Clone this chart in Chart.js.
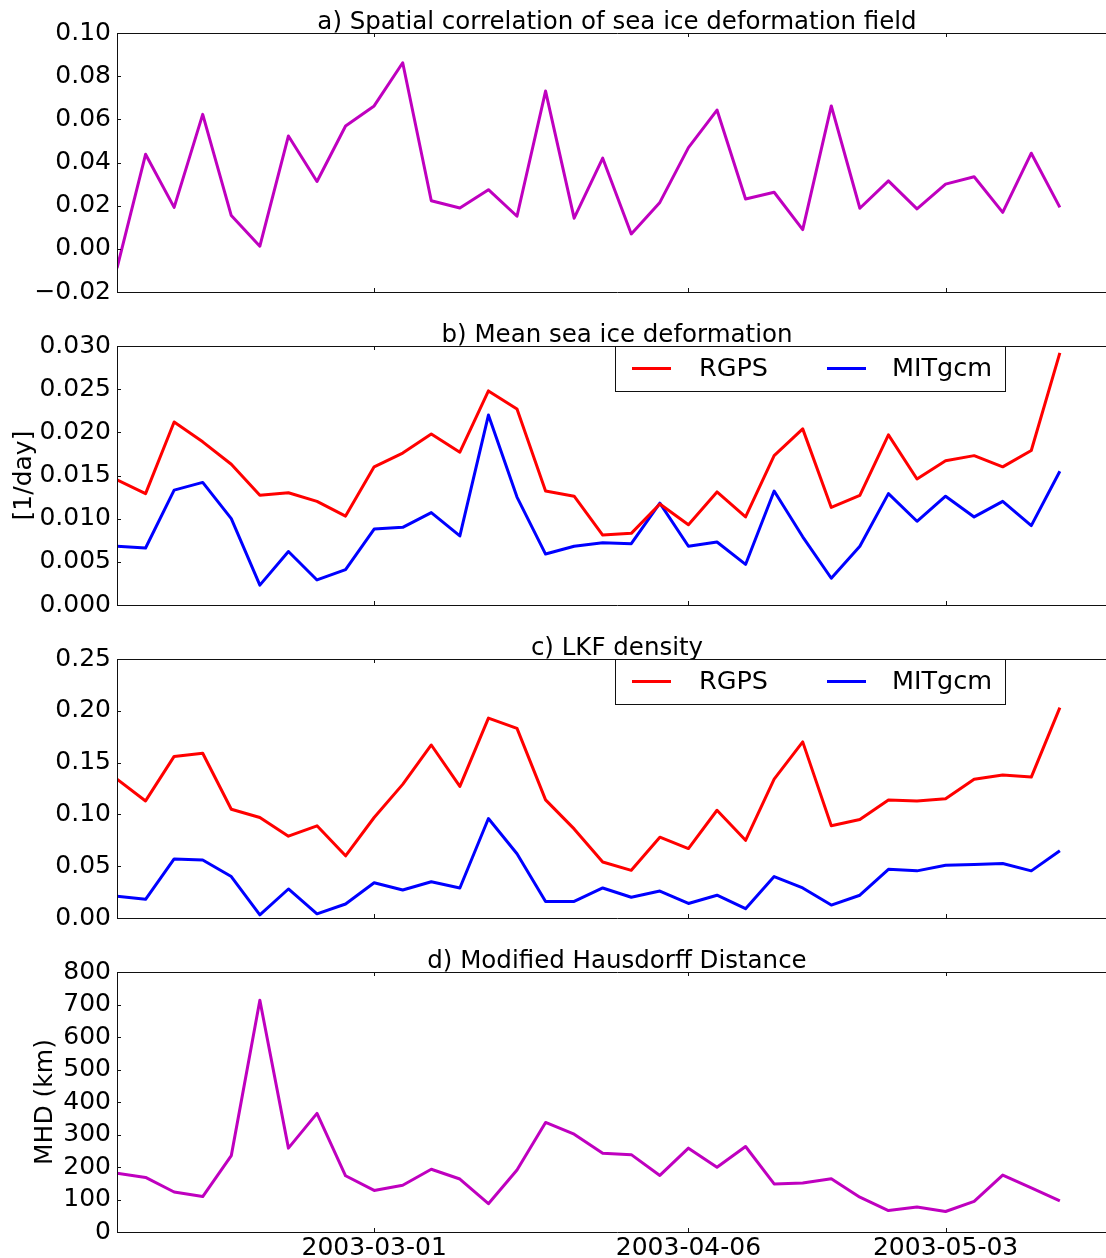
<!DOCTYPE html>
<html>
<head>
<meta charset="utf-8">
<script src="https://cdn.jsdelivr.net/npm/chart.js@4.4.1/dist/chart.umd.min.js"></script>
<style>
  html, body { margin: 0; padding: 0; background: #fff; }
  body { width: 1106px; height: 1258px; position: relative; overflow: hidden; }
  canvas { position: absolute; left: 0; }
</style>
</head>
<body>
<canvas id="panelA" width="1117" height="313" style="top:0px"></canvas>
<canvas id="panelB" width="1117" height="313" style="top:313px"></canvas>
<canvas id="panelC" width="1117" height="313" style="top:626px"></canvas>
<canvas id="panelD" width="1117" height="319" style="top:939px"></canvas>
<script>
// Snapshot index of the labelled dates on the time axis
const xTickIndex = [9, 20, 29];
const xTickLabels = ['2003-03-01', '2003-04-06', '2003-05-03'];

// a) spatial correlation between RGPS and MITgcm deformation fields
const spatialCorr = [-0.009, 0.0438, 0.0192, 0.0623, 0.0154, 0.0012, 0.0523, 0.0312, 0.0569, 0.0662,
  0.0862, 0.0223, 0.0189, 0.0274, 0.0151, 0.0731, 0.0142, 0.042, 0.0069, 0.0215,
  0.0469, 0.0643, 0.0231, 0.0262, 0.0089, 0.0662, 0.0188, 0.0315, 0.0185, 0.030,
  0.0334, 0.0169, 0.0443, 0.0192];

// b) mean deformation rate [1/day]
const meanDefRGPS = [0.0145, 0.0129, 0.0212, 0.0189, 0.0163, 0.0127, 0.0130, 0.0120, 0.0103, 0.0160,
  0.0176, 0.0198, 0.0177, 0.0248, 0.0227, 0.0132, 0.0126, 0.0081, 0.0083, 0.0117,
  0.0093, 0.0131, 0.0102, 0.0173, 0.0204, 0.0113, 0.0127, 0.0197, 0.0146, 0.0167,
  0.0173, 0.0160, 0.0179, 0.0292];
const meanDefMIT = [0.0068, 0.0066, 0.0133, 0.0142, 0.0100, 0.0023, 0.0062, 0.0029, 0.0041, 0.0088,
  0.0090, 0.0107, 0.0080, 0.0220, 0.0125, 0.0059, 0.0068, 0.0072, 0.0071, 0.0118,
  0.0068, 0.0073, 0.0047, 0.0132, 0.0079, 0.0031, 0.0068, 0.0129, 0.0097, 0.0126,
  0.0102, 0.0120, 0.0092, 0.0155];

// c) LKF density
const lkfRGPS = [0.134, 0.113, 0.156, 0.159, 0.105, 0.097, 0.079, 0.089, 0.060, 0.097,
  0.129, 0.167, 0.127, 0.193, 0.183, 0.114, 0.086, 0.054, 0.046, 0.078,
  0.067, 0.104, 0.075, 0.134, 0.170, 0.089, 0.095, 0.114, 0.113, 0.115,
  0.134, 0.138, 0.136, 0.203];
const lkfMIT = [0.021, 0.018, 0.057, 0.056, 0.040, 0.003, 0.028, 0.004, 0.0135, 0.034,
  0.027, 0.035, 0.029, 0.096, 0.062, 0.016, 0.016, 0.029, 0.020, 0.026,
  0.014, 0.022, 0.009, 0.040, 0.029, 0.0125, 0.022, 0.047, 0.0455, 0.051,
  0.0516, 0.0526, 0.0455, 0.065];

// d) modified Hausdorff distance [km]
const mhd = [181, 168, 123, 109, 235, 713, 258, 365, 173, 128,
  144, 193, 163, 87, 191, 337, 301, 242, 238, 174,
  258, 199, 263, 148, 151, 164, 107, 66, 77, 63,
  94, 175, 136, 96];

const TICK_FONT = { family: 'DejaVu Sans', size: 25 };
const TITLE_CSS = '24.5px "DejaVu Sans"';
const LABEL_CSS = '25px "DejaVu Sans"';
const LEGEND_CSS = '25.5px "DejaVu Sans"';
const MAGENTA = '#bf00bf', RED = '#ff0000', BLUE = '#0000ff';

const toPoints = vals => vals.map((v, i) => ({ x: i, y: v }));

// Frame, inward ticks, panel title, y label and in-axes legend
const panelDecor = {
  id: 'panelDecor',
  afterDraw(chart, args, o) {
    const { ctx, chartArea: ca, scales } = chart;
    ctx.save();
    ctx.strokeStyle = '#111';
    ctx.lineWidth = 1;
    ctx.beginPath();
    ctx.rect(Math.round(ca.left) + 0.5, Math.round(ca.top) + 0.5,
             Math.round(ca.right - ca.left), Math.round(ca.bottom - ca.top));
    ctx.stroke();

    // ticks pointing into the axes
    const tl = 4;
    ctx.beginPath();
    xTickIndex.forEach(v => {
      const px = Math.round(scales.x.getPixelForValue(v)) + 0.5;
      ctx.moveTo(px, ca.bottom); ctx.lineTo(px, ca.bottom - tl);
      ctx.moveTo(px, ca.top); ctx.lineTo(px, ca.top + tl);
    });
    scales.y.ticks.forEach(t => {
      const py = Math.round(scales.y.getPixelForValue(t.value)) + 0.5;
      ctx.moveTo(ca.left, py); ctx.lineTo(ca.left + tl, py);
    });
    ctx.stroke();

    // title
    ctx.fillStyle = '#000';
    ctx.font = TITLE_CSS;
    ctx.textAlign = 'center';
    ctx.textBaseline = 'alphabetic';
    ctx.fillText(o.title, (ca.left + ca.right) / 2, ca.top - 4);

    // y label
    if (o.yLabel) {
      ctx.save();
      ctx.font = LABEL_CSS;
      ctx.translate(o.yLabelX, (ca.top + ca.bottom) / 2);
      ctx.rotate(-Math.PI / 2);
      ctx.textBaseline = 'middle';
      ctx.fillText(o.yLabel, 0, 0);
      ctx.restore();
    }

    // legend
    if (o.legend) {
      const bx = ca.left + 498, by = ca.top, bw = 390, bh = 45;
      ctx.fillStyle = '#fff';
      ctx.fillRect(bx, by, bw, bh);
      ctx.strokeStyle = '#111';
      ctx.lineWidth = 1;
      ctx.strokeRect(Math.round(bx) + 0.5, Math.round(by) + 0.5, bw, bh);
      const cy = by + bh / 2;
      const offs = [{ l: 17, t: 84 }, { l: 212, t: 277 }];
      ctx.font = LEGEND_CSS;
      chart.data.datasets.forEach((ds, i) => {
        const off = offs[i];
        ctx.strokeStyle = ds.borderColor;
        ctx.lineWidth = 3;
        ctx.beginPath();
        ctx.moveTo(bx + off.l, cy); ctx.lineTo(bx + off.l + 39, cy);
        ctx.stroke();
        ctx.fillStyle = '#000';
        ctx.textAlign = 'left';
        ctx.textBaseline = 'middle';
        ctx.fillText(ds.label, bx + off.t, cy + 1);
      });
    }
    ctx.restore();
  }
};

function yTickList(min, max, step) {
  const n = Math.round((max - min) / step);
  const out = [];
  for (let k = 0; k <= n; k++) out.push(+(min + k * step).toFixed(6));
  return out;
}

function makePanel(id, datasets, cfg) {
  const yTicks = yTickList(cfg.min, cfg.max, cfg.step);
  return new Chart(document.getElementById(id), {
    type: 'line',
    data: { datasets },
    options: {
      responsive: false,
      animation: false,
      layout: { padding: { top: 33, left: 0, right: 0, bottom: 0 } },
      elements: {
        point: { radius: 0, hoverRadius: 0 },
        line: { tension: 0, borderWidth: 3, borderJoinStyle: 'round', borderCapStyle: 'butt' }
      },
      plugins: {
        legend: { display: false },
        tooltip: { enabled: false },
        title: { display: false },
        panelDecor: cfg
      },
      scales: {
        x: {
          type: 'linear', min: 0, max: 35,
          grid: { display: false, drawTicks: false },
          border: { display: false },
          afterBuildTicks: s => { s.ticks = xTickIndex.map(v => ({ value: v })); },
          afterFit: s => { s.height = cfg.xHeight; },
          ticks: {
            display: !!cfg.showX, padding: 1, font: TICK_FONT, color: '#000',
            maxRotation: 0, autoSkip: false,
            callback: (v, i) => xTickLabels[i]
          }
        },
        y: {
          min: cfg.min, max: cfg.max,
          grid: { display: false, drawTicks: false },
          border: { display: false },
          afterBuildTicks: s => { s.ticks = yTicks.map(v => ({ value: v })); },
          afterFit: s => { s.width = 117; },
          ticks: {
            padding: 6, font: TICK_FONT, color: '#000', autoSkip: false,
            callback: v => v.toFixed(cfg.dec).replace('-', '\u2212')
          }
        }
      }
    },
    plugins: [panelDecor]
  });
}

makePanel('panelA', [
  { label: 'correlation', data: toPoints(spatialCorr), borderColor: MAGENTA }
], { title: 'a) Spatial correlation of sea ice deformation field', min: -0.02, max: 0.10, step: 0.02, dec: 2, xHeight: 20 });

makePanel('panelB', [
  { label: 'RGPS', data: toPoints(meanDefRGPS), borderColor: RED },
  { label: 'MITgcm', data: toPoints(meanDefMIT), borderColor: BLUE }
], { title: 'b) Mean sea ice deformation', yLabel: '[1/day]', yLabelX: 24, legend: true, min: 0, max: 0.030, step: 0.005, dec: 3, xHeight: 20 });

makePanel('panelC', [
  { label: 'RGPS', data: toPoints(lkfRGPS), borderColor: RED },
  { label: 'MITgcm', data: toPoints(lkfMIT), borderColor: BLUE }
], { title: 'c) LKF density', legend: true, min: 0, max: 0.25, step: 0.05, dec: 2, xHeight: 20 });

makePanel('panelD', [
  { label: 'MHD', data: toPoints(mhd), borderColor: MAGENTA }
], { title: 'd) Modified Hausdorff Distance', yLabel: 'MHD (km)', yLabelX: 45, min: 0, max: 800, step: 100, dec: 0, xHeight: 26, showX: true });
</script>
</body>
</html>
